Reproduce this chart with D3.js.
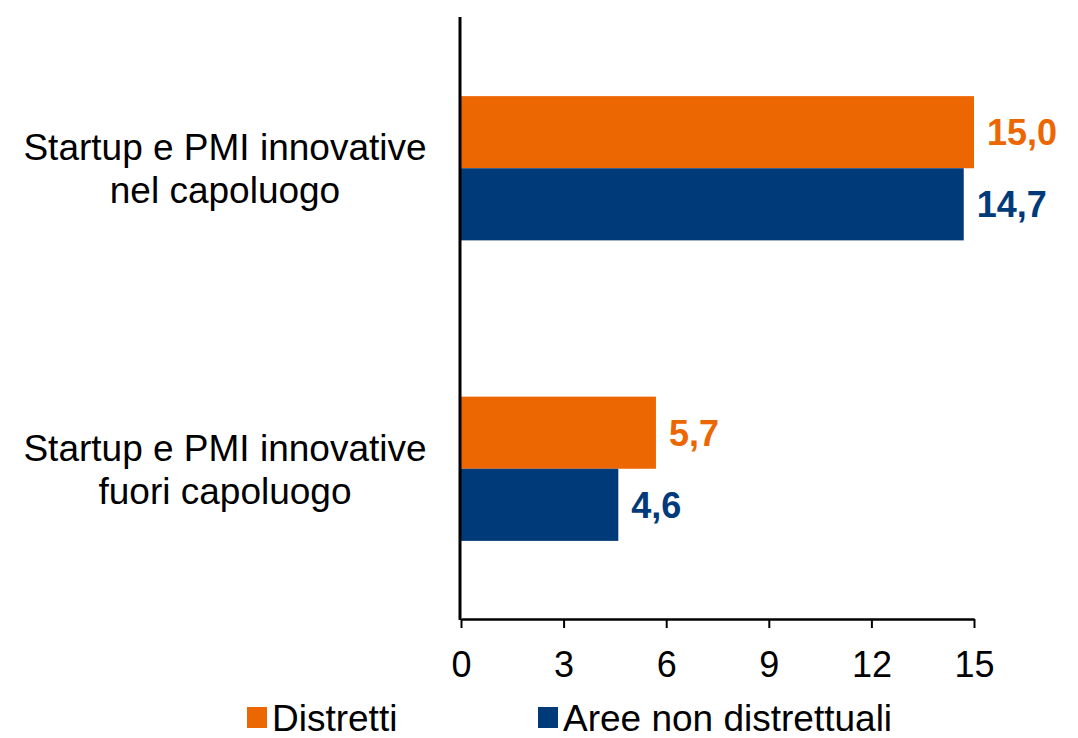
<!DOCTYPE html>
<html>
<head>
<meta charset="utf-8">
<script src="https://cdn.jsdelivr.net/npm/d3@7"></script>
<style>
  body { margin: 0; background: #fff; }
  svg { display: block; font-family: "Liberation Sans", Arial, sans-serif; }
</style>
</head>
<body>
<svg id="chart" width="1078" height="738"></svg>
<script>
// categories (two text lines each) and series
const categories = ["capoluogo", "fuori"];
const categoryLines = [
  ["Startup e PMI innovative", "nel capoluogo"],
  ["Startup e PMI innovative", "fuori capoluogo"]
];
const seriesNames = ["Distretti", "Aree non distrettuali"];
const distretti = [15.0, 5.7];
const areeNonDistrettuali = [14.7, 4.6];
const xTicks = [0, 3, 6, 9, 12, 15];
const colors = ["#EC6602", "#003A78"];

const rows = categories.map((c, i) => ({
  key: c,
  lines: categoryLines[i],
  values: [
    { series: seriesNames[0], value: distretti[i] },
    { series: seriesNames[1], value: areeNonDistrettuali[i] }
  ]
}));

const svg = d3.select("#chart");
const fmt = v => v.toFixed(1).replace(".", ",");

const x = d3.scaleLinear().domain([0, 15]).range([461, 974]);
const y = d3.scaleBand()
  .domain(categories)
  .range([18, 619])
  .paddingInner(0.52)
  .paddingOuter(0.26);
const ySub = d3.scaleBand()
  .domain(seriesNames)
  .range([0, y.bandwidth()]);
const color = d3.scaleOrdinal().domain(seriesNames).range(colors);

// bars
const groups = svg.selectAll("g.group")
  .data(rows)
  .join("g")
    .attr("class", "group")
    .attr("transform", d => `translate(0,${y(d.key)})`);

groups.selectAll("rect")
  .data(d => d.values)
  .join("rect")
    .attr("x", x(0))
    .attr("y", d => ySub(d.series))
    .attr("width", d => x(d.value) - x(0))
    .attr("height", ySub.bandwidth())
    .attr("fill", d => color(d.series));

// value labels
groups.selectAll("text.val")
  .data(d => d.values)
  .join("text")
    .attr("class", "val")
    .attr("x", d => x(d.value) + 13)
    .attr("y", d => ySub(d.series) + ySub.bandwidth() / 2)
    .attr("dy", "0.36em")
    .attr("font-size", "36px")
    .attr("font-weight", "bold")
    .attr("fill", d => color(d.series))
    .text(d => fmt(d.value));

// x axis
const xAxis = svg.append("g")
  .attr("transform", "translate(0,619)")
  .call(d3.axisBottom(x).tickValues(xTicks).tickSize(9).tickPadding(23).tickSizeOuter(0));
xAxis.select(".domain").attr("stroke", "#000").attr("stroke-width", 2.5);
xAxis.selectAll(".tick line").attr("stroke", "#000").attr("stroke-width", 2);
xAxis.selectAll(".tick text")
  .attr("font-size", "36px")
  .attr("font-family", "Liberation Sans, Arial, sans-serif")
  .attr("fill", "#000");

// y axis line
svg.append("line")
  .attr("x1", x(0) - 1).attr("x2", x(0) - 1)
  .attr("y1", 17).attr("y2", 620)
  .attr("stroke", "#000")
  .attr("stroke-width", 3);

// category labels
const catLabels = svg.selectAll("text.cat")
  .data(rows)
  .join("text")
    .attr("class", "cat")
    .attr("text-anchor", "middle")
    .attr("font-size", "37px")
    .attr("fill", "#000");
catLabels.selectAll("tspan")
  .data(d => d.lines.map((l, i) => ({ l, i, c: y(d.key) + y.bandwidth() / 2 })))
  .join("tspan")
    .attr("x", 225)
    .attr("y", d => d.c - 8 + d.i * 43)
    .text(d => d.l);

// legend
const legendX = [247, 538];
const legend = svg.selectAll("g.legend")
  .data(seriesNames)
  .join("g")
    .attr("class", "legend")
    .attr("transform", (d, i) => `translate(${legendX[i]},0)`);
legend.append("rect")
  .attr("x", 0).attr("y", 707)
  .attr("width", 20).attr("height", 21)
  .attr("fill", d => color(d));
legend.append("text")
  .attr("x", 25).attr("y", 731)
  .attr("font-size", "37px")
  .attr("fill", "#000")
  .text(d => d);
</script>
</body>
</html>
